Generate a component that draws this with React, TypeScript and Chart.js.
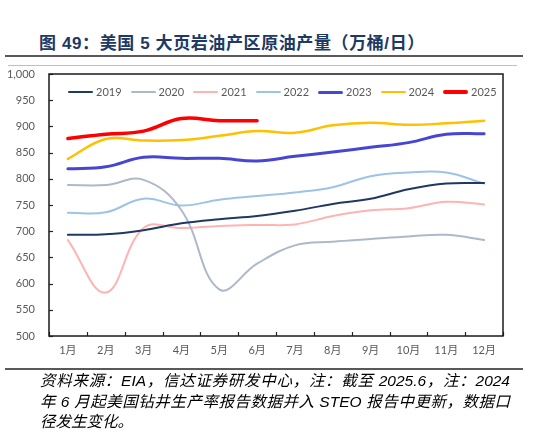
import React, { useEffect, useRef } from "react";
import { Chart, registerables } from "chart.js";

Chart.register(...registerables);

const months = ["1月", "2月", "3月", "4月", "5月", "6月", "7月", "8月", "9月", "10月", "11月", "12月"];
const years = ["2019", "2020", "2021", "2022", "2023", "2024", "2025"];

const s2019 = [693, 694, 702, 715, 723, 729, 739, 752, 762, 780, 791, 792];
const s2020 = [788, 788, 798, 740, 589, 638, 673, 680, 685, 690, 693, 683];
const s2021 = [683, 583, 706, 706, 710, 712, 713, 729, 740, 744, 756, 751];
const s2022 = [735, 736, 762, 749, 760, 767, 774, 784, 805, 812, 812, 791];
const s2023 = [819, 823, 841, 839, 839, 834, 843, 851, 860, 869, 885, 886];
const s2024 = [838, 876, 873, 874, 882, 891, 888, 902, 907, 903, 906, 911];
const s2025 = [877, 885, 891, 915, 911, 911];

const yMin = 500;
const yMax = 1000;
const yStep = 50;

const seriesValues = [s2019, s2020, s2021, s2022, s2023, s2024, s2025];
const seriesColors = ["#1F3864", "#ADB9CA", "#FFB3B3", "#9DC3E6", "#4646D2", "#FFC000", "#FF0000"];
const seriesWidths = [2, 2, 2, 2, 3, 2.5, 3.5];

const FONT = "Lato, 'Noto Sans CJK SC', sans-serif";

const boxAndTicks = {
  id: "boxAndTicks",
  afterDatasetsDraw(chart: any) {
    const { ctx, chartArea } = chart;
    const x = chart.scales.x;
    const y = chart.scales.y;
    ctx.save();
    ctx.strokeStyle = "#262626";
    ctx.lineWidth = 1.2;
    for (let v = yMin; v <= yMax; v += yStep) {
      const py = Math.round(y.getPixelForValue(v)) + 0.5;
      ctx.beginPath();
      ctx.moveTo(chartArea.left, py);
      ctx.lineTo(chartArea.left + 4, py);
      ctx.stroke();
    }
    const n = months.length;
    for (let i = 0; i <= n; i++) {
      let px;
      if (i === 0) px = chartArea.left;
      else if (i === n) px = chartArea.right;
      else px = (x.getPixelForValue(i - 1) + x.getPixelForValue(i)) / 2;
      px = Math.round(px) + 0.5;
      ctx.beginPath();
      ctx.moveTo(px, chartArea.bottom);
      ctx.lineTo(px, chartArea.bottom - 4);
      ctx.stroke();
    }
    ctx.lineWidth = 1.5;
    ctx.strokeStyle = "#1a1a1a";
    ctx.strokeRect(chartArea.left, chartArea.top, chartArea.right - chartArea.left, chartArea.bottom - chartArea.top);
    ctx.restore();
  },
};

export default function App() {
  const ref = useRef<HTMLCanvasElement | null>(null);

  useEffect(() => {
    if (!ref.current) return;
    const chart = new Chart(ref.current, {
      type: "line",
      data: {
        labels: months,
        datasets: years.map((yr, i) => ({
          label: yr,
          data: seriesValues[i],
          borderColor: seriesColors[i],
          backgroundColor: seriesColors[i],
          borderWidth: seriesWidths[i],
          pointRadius: 0,
          tension: 0.4,
          fill: false,
          borderCapStyle: "round" as const,
        })),
      },
      options: {
        responsive: false,
        animation: false,
        maintainAspectRatio: false,
        layout: { padding: { top: 74, right: 35, left: 0, bottom: 68 } },
        plugins: {
          legend: { display: false },
          tooltip: { enabled: false },
        },
        scales: {
          x: {
            offset: true,
            grid: { display: false, drawTicks: false },
            border: { display: false },
            ticks: { color: "#595959", font: { family: FONT, size: 11 }, padding: 8, maxRotation: 0 },
            afterFit: (s: any) => { s.height = 30; },
          },
          y: {
            min: yMin,
            max: yMax,
            grid: { display: false, drawTicks: false },
            border: { display: false },
            ticks: {
              stepSize: yStep,
              color: "#595959",
              font: { family: FONT, size: 11 },
              padding: 14,
              callback: (v: any) => Number(v).toLocaleString("en-US"),
            },
            afterFit: (s: any) => { s.width = 49; },
          },
        },
      },
      plugins: [boxAndTicks],
    });
    return () => chart.destroy();
  }, []);

  const footerBase: React.CSSProperties = {
    position: "absolute",
    left: 40,
    width: 470,
    fontStyle: "italic",
    fontSize: 15.5,
    color: "#000",
    fontFamily: "'Liberation Sans', 'Noto Sans CJK SC', sans-serif",
    lineHeight: "20px",
    whiteSpace: "nowrap",
  };

  return (
    <div style={{ position: "fixed", left: 0, top: 0, width: 538, height: 434, background: "#fff", overflow: "hidden" }}>
      <div
        style={{
          position: "absolute",
          left: 39,
          top: 33,
          fontSize: 17,
          fontWeight: "bold",
          color: "#203864",
          fontFamily: "'Liberation Sans', 'Noto Sans CJK SC', sans-serif",
          lineHeight: "22px",
          whiteSpace: "nowrap",
          letterSpacing: 0.6,
        }}
      >
        图 49：美国 5 大页岩油产区原油产量（万桶/日）
      </div>
      <div style={{ position: "absolute", left: 5, top: 55, width: 518, height: 2, background: "#595959" }} />
      <div style={{ position: "absolute", left: 8, top: 65, width: 509, height: 1, background: "#BFBFBF" }} />
      <canvas ref={ref} width={538} height={434} style={{ position: "absolute", left: 0, top: 0, width: 538, height: 434 }} />
      <div style={{ position: "absolute", left: 68, top: 84, height: 16, display: "flex", alignItems: "center" }}>
        {years.map((yr, i) => (
          <div key={yr} style={{ display: "flex", alignItems: "center", width: 62.5 }}>
            <div style={{ width: 25, height: seriesWidths[i], background: seriesColors[i], borderRadius: 2 }} />
            <span style={{ marginLeft: 3, fontSize: 11, color: "#595959", fontFamily: FONT, lineHeight: "16px" }}>{yr}</span>
          </div>
        ))}
      </div>
      <div style={{ position: "absolute", left: 5, top: 368, width: 518, height: 1.5, background: "#595959" }} />
      <div style={{ ...footerBase, top: 371, textAlign: "justify", textAlignLast: "justify" } as React.CSSProperties}>
        资料来源：EIA，信达证券研发中心，注：截至 2025.6，注：2024
      </div>
      <div style={{ ...footerBase, top: 392, textAlign: "justify", textAlignLast: "justify" } as React.CSSProperties}>
        年 6 月起美国钻井生产率报告数据并入 STEO 报告中更新，数据口
      </div>
      <div style={{ ...footerBase, top: 412 }}>径发生变化。</div>
    </div>
  );
}
